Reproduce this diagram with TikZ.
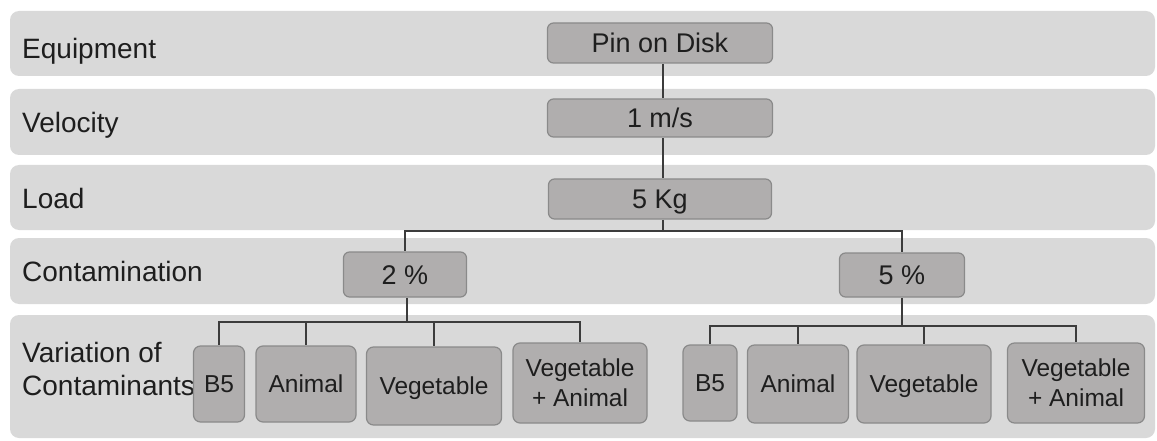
\documentclass[tikz,border=0pt]{standalone}
\usepackage{fontspec}
\setmainfont{Liberation Sans}
\pgfdeclarelayer{bands}
\pgfdeclarelayer{conn}
\pgfsetlayers{bands,conn,main}
\definecolor{bandfill}{RGB}{217,217,217}
\definecolor{boxfill}{RGB}{176,174,174}
\definecolor{boxline}{RGB}{138,138,138}
\definecolor{linecol}{RGB}{60,60,60}
\definecolor{txt}{RGB}{30,30,30}
\begin{document}
\begin{tikzpicture}[x=1pt,y=-1pt,
  band/.style={fill=bandfill,draw=none,rounded corners=9pt},
  bandlabel/.style={anchor=base west,inner sep=0pt,font=\fontsize{28}{33}\selectfont,text=txt,align=left},
  topbox/.style={rectangle,rounded corners=6pt,fill=boxfill,draw=boxline,line width=1.2pt,
    inner sep=0pt,font=\fontsize{27}{32}\selectfont,text=txt,text height=19.3pt,text depth=0pt},
  kidbox/.style={rectangle,rounded corners=7pt,fill=boxfill,draw=boxline,line width=1.2pt,
    inner sep=0pt,font=\fontsize{24.5}{30}\selectfont,text=txt,text height=17.5pt,text depth=0pt},
  kidtwo/.style={rectangle,rounded corners=7pt,fill=boxfill,draw=boxline,line width=1.2pt,
    inner sep=0pt,font=\fontsize{24.5}{30}\selectfont,text=txt,align=center},
  conn/.style={draw=linecol,line width=1.4pt}]
\useasboundingbox (0,0) rectangle (1157,441);
% bands
\begin{pgfonlayer}{bands}
\path[band] (10,11) rectangle (1155,76);
\path[band] (10,89) rectangle (1155,155);
\path[band] (10,165) rectangle (1155,230);
\path[band] (10,238) rectangle (1155,304);
\path[band] (10,315) rectangle (1155,438);
\end{pgfonlayer}
% band labels
\node[bandlabel] (lEquip) at (22,59) {Equipment};
\node[bandlabel] (lVel) at (22,133) {Velocity};
\node[bandlabel] (lLoad) at (22,208) {Load};
\node[bandlabel] (lCont) at (22,281) {Contamination};
\node[bandlabel] (lVar1) at (22,362) {Variation of};
\node[bandlabel] (lVar2) at (22,395) {Contaminants};
% top boxes
\node[topbox,minimum width=225pt,minimum height=40pt] (pin) at (660,43) {Pin on Disk};
\node[topbox,minimum width=225pt,minimum height=38pt] (vel) at (660,118) {1 m/s};
\node[topbox,minimum width=223pt,minimum height=40pt] (load) at (660,199) {5 Kg};
\node[topbox,minimum width=123pt,minimum height=45pt] (c2) at (405,274.5) {2 \%};
\node[topbox,minimum width=125pt,minimum height=44pt] (c5) at (902,275) {5 \%};
% left children
\node[kidbox,minimum width=51pt,minimum height=76pt] (lb5) at (219,384) {B5};
\node[kidbox,minimum width=100pt,minimum height=76pt] (lan) at (306,384) {Animal};
\node[kidbox,minimum width=135pt,minimum height=78pt] (lveg) at (434,386) {Vegetable};
\node[kidtwo,minimum width=134pt,minimum height=80pt] (lva) at (580,383) {Vegetable\\+ Animal};
% right children
\node[kidbox,minimum width=54pt,minimum height=76pt] (rb5) at (710,383) {B5};
\node[kidbox,minimum width=101pt,minimum height=78pt] (ran) at (798,384) {Animal};
\node[kidbox,minimum width=134pt,minimum height=78pt] (rveg) at (924,384) {Vegetable};
\node[kidtwo,minimum width=137pt,minimum height=80pt] (rva) at (1076,383) {Vegetable\\+ Animal};
% connectors
\coordinate (j1) at (663,231);
\coordinate (j2) at (407,322);
\coordinate (j3) at (902,326);
\begin{pgfonlayer}{conn}
\draw[conn] (pin.south -| j1) -- (vel.north -| j1);
\draw[conn] (vel.south -| j1) -- (load.north -| j1);
\draw[conn] (load.south -| j1) -- (j1);
\draw[conn] (j1) -| (c2.north);
\draw[conn] (j1) -| (c5.north);
\draw[conn] (c2.south -| j2) -- (j2);
\draw[conn] (j2) -| (lb5.north);
\draw[conn] (j2) -| (lan.north);
\draw[conn] (j2) -| (lveg.north);
\draw[conn] (j2) -| (lva.north);
\draw[conn] (c5.south) -- (j3);
\draw[conn] (j3) -| (rb5.north);
\draw[conn] (j3) -| (ran.north);
\draw[conn] (j3) -| (rveg.north);
\draw[conn] (j3) -| (rva.north);
\end{pgfonlayer}
\end{tikzpicture}
\end{document}
